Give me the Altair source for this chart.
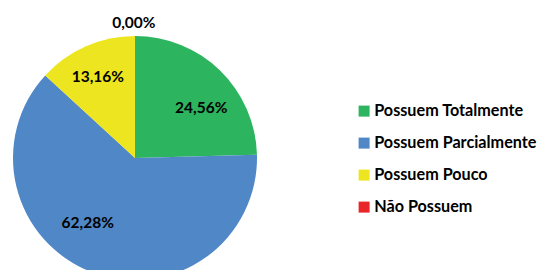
import math
import altair as alt
import pandas as pd

categories = ["Possuem Totalmente", "Possuem Parcialmente", "Possuem Pouco", "Não Possuem"]
values = [24.56, 62.28, 13.16, 0.00]
labels = ["24,56%", "62,28%", "13,16%", "0,00%"]
colors = ["#2db45e", "#4f87c7", "#ece51f", "#e8262a"]

# label placement style (pixel radius, angular nudge in degrees)
label_radius = [83, 80, 89, 135]
label_shift_deg = [8.7, 15.7, -1, -0.5]

total = sum(values)
cum = 0.0
rows = []
for i, (c, v, l) in enumerate(zip(categories, values, labels)):
    mid = (cum + v / 2) / total * 2 * math.pi
    cum += v
    rows.append(dict(cat=c, value=v, label=l, order=i,
                     angle=mid + math.radians(label_shift_deg[i]),
                     r=label_radius[i]))
df = pd.DataFrame(rows)

CX, CY, R = 127, 150, 122
FONT = "Lato"

base = alt.Chart(df)
arcs = base.mark_arc(outerRadius=R, x=CX, y=CY).encode(
    theta=alt.Theta("value:Q", stack=True),
    order=alt.Order("order:Q"),
    color=alt.Color(
        "cat:N",
        sort=categories,
        scale=alt.Scale(domain=categories, range=colors),
        legend=alt.Legend(
            title=None, orient="none", legendX=348, legendY=95,
            symbolType="square", symbolSize=121, symbolStrokeWidth=0,
            labelFont=FONT, labelFontWeight="bold", labelFontSize=16.2,
            labelColor="black", rowPadding=15, labelOffset=2, labelLimit=0,
        ),
    ),
)
texts = base.mark_text(
    x=CX, y=CY, font=FONT, fontWeight="bold", fontSize=15.5, color="black",
    align="center", baseline="middle",
).encode(
    theta=alt.Theta("angle:Q", scale=None),
    radius=alt.Radius("r:Q", scale=None),
    text="label:N",
)

chart = (
    alt.layer(arcs, texts)
    .resolve_scale(theta="independent")
    .properties(width=533, height=262, padding=0,
                autosize=alt.AutoSizeParams(type="none"))
    .configure_view(stroke=None)
)
chart.save("out.html", embed_options={"renderer": "svg", "actions": False})
